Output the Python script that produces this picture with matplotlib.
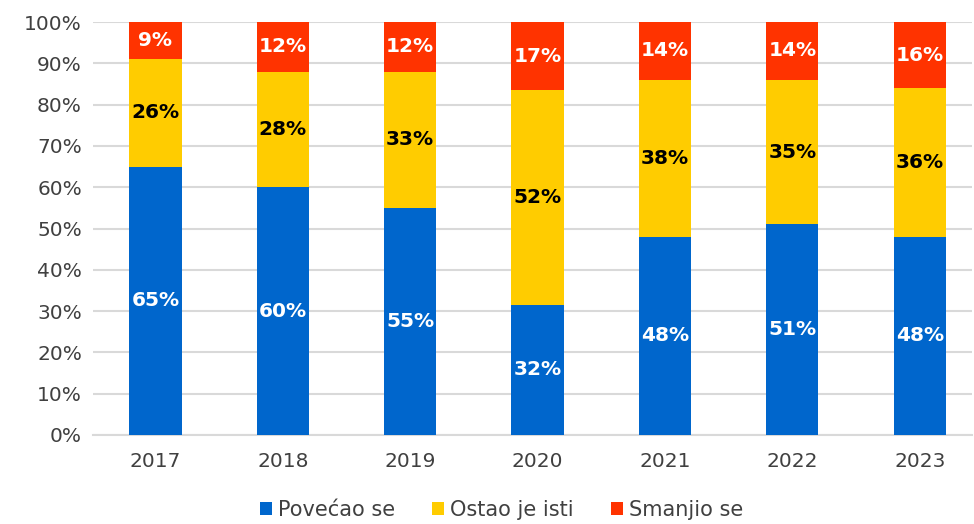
import matplotlib
matplotlib.use("Agg")
import matplotlib.pyplot as plt
import numpy as np

years = ["2017", "2018", "2019", "2020", "2021", "2022", "2023"]
povecao = [65, 60, 55, 31.5, 48, 51, 48]
ostao = [26, 28, 33, 52, 38, 35, 36]
smanjio = [9, 12, 12, 16.5, 14, 14, 16]
series_names = ["Povećao se", "Ostao je isti", "Smanjio se"]
colors = ["#0066CC", "#FFCC00", "#FF3300"]
label_colors = ["white", "black", "white"]

plt.rcParams['font.family'] = ['DejaVu Sans']
fig = plt.figure(figsize=(9.74, 5.24), dpi=100)
ax = fig.add_axes([93/974, 1-435/524, (972-93)/974, (435-22)/524])

x = np.arange(len(years))
bottom = np.zeros(len(years))
for vals, name, c, lc in zip([povecao, ostao, smanjio], series_names, colors, label_colors):
    vals = np.array(vals, dtype=float)
    ax.bar(x, vals, 0.41, bottom=bottom, color=c, label=name, zorder=3)
    for xi, b, v in zip(x, bottom, vals):
        ax.text(xi, b + v/2, f"{int(v+0.5)}%", ha='center', va='center', color=lc,
                fontsize=14.5, fontweight='bold', zorder=4)
    bottom += vals

ax.set_ylim(0, 100)
ax.set_xlim(-0.49, 6.41)
ax.set_yticks(np.arange(0, 101, 10))
ax.set_yticklabels([f"{v}%" for v in range(0, 101, 10)])
ax.set_xticks(x)
ax.set_xticklabels(years)
ax.tick_params(axis='both', length=0, labelsize=14.5, colors='#404040')
ax.tick_params(axis='x', pad=12)
ax.tick_params(axis='y', pad=8)
ax.yaxis.grid(True, color='#D9D9D9', linewidth=1.5, zorder=0)
ax.set_axisbelow(True)
for s in ['left', 'right', 'top']:
    ax.spines[s].set_visible(False)
ax.spines['bottom'].set_color('#D9D9D9')
ax.spines['bottom'].set_linewidth(1.5)

leg = fig.legend(loc='lower center', bbox_to_anchor=(0.515, -0.028), ncol=3, frameon=False,
                 fontsize=15, handlelength=0.55, handleheight=0.55, handletextpad=0.3,
                 columnspacing=1.8)
for t in leg.get_texts():
    t.set_color('#404040')

fig.savefig("out.png", dpi=100)
